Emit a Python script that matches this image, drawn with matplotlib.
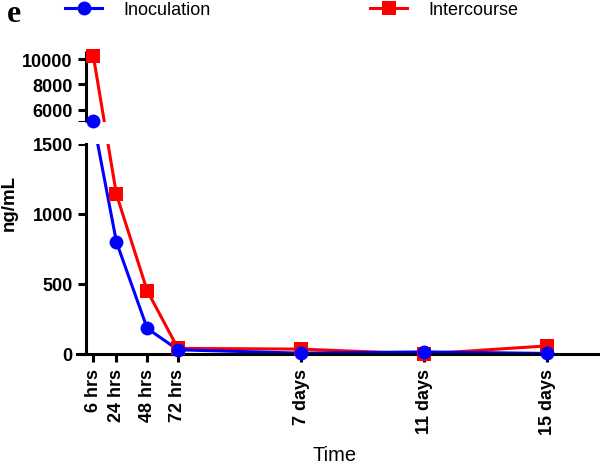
"""
Panel e: ng/mL over time after inoculation vs. intercourse, broken y axis.
"""

import matplotlib
matplotlib.use("Agg")
import matplotlib.pyplot as plt
import numpy as np
from matplotlib.lines import Line2D
from matplotlib.patches import Rectangle

HOURS = [6, 24, 48, 72, 168, 264, 360]
TIME_LABELS = ["6 hrs", "24 hrs", "48 hrs", "72 hrs", "7 days", "11 days", "15 days"]
INOCULATION = [5100, 800, 183, 30, 6, 15, 4]
INTERCOURSE = [10250, 1140, 452, 40, 35, 0, 58]

Y_TICKS = [0, 500, 1000, 1500, 5000, 6000, 8000, 10000]
Y_TICK_LABELS = ["0", "500", "1000", "1500", "", "6000", "8000", "10000"]

LOW_MAX = 1500    # top of lower segment
HIGH_MIN = 5000   # bottom of upper segment
Y_TOP = 10690

# pixels per data unit in each segment, and the blank gap between them
LOW_K = 0.14
GAP = 21.7
HIGH_K = 0.0126

BLUE = "#0000FF"
RED = "#FF0000"
LW = 2.2


def _fwd(y):
    y = np.asarray(y, dtype=float)
    u1 = LOW_MAX * LOW_K
    low = y * LOW_K
    mid = u1 + (y - LOW_MAX) / (HIGH_MIN - LOW_MAX) * GAP
    high = u1 + GAP + (y - HIGH_MIN) * HIGH_K
    return np.where(y <= LOW_MAX, low, np.where(y < HIGH_MIN, mid, high))


def _inv(u):
    u = np.asarray(u, dtype=float)
    u1 = LOW_MAX * LOW_K
    u2 = u1 + GAP
    low = u / LOW_K
    mid = LOW_MAX + (u - u1) / GAP * (HIGH_MIN - LOW_MAX)
    high = HIGH_MIN + (u - u2) / HIGH_K
    return np.where(u <= u1, low, np.where(u < u2, mid, high))


def main() -> None:
    plt.rcParams["font.family"] = ["Liberation Sans", "DejaVu Sans"]

    fig = plt.figure(figsize=(6.0, 4.64), dpi=100)
    ax = fig.add_axes([76.7 / 600, 109 / 464, 522.3 / 600, 303.4 / 464])
    ax.set_yscale("function", functions=(_fwd, _inv))

    # lines first, then the gap mask, then markers on top
    ax.plot(HOURS, INTERCOURSE, color=RED, lw=LW, zorder=2)
    ax.plot(HOURS, INOCULATION, color=BLUE, lw=LW, zorder=2.05)
    ax.add_patch(Rectangle((0, LOW_MAX), 1, HIGH_MIN - LOW_MAX,
                           transform=ax.get_yaxis_transform(),
                           facecolor="white", edgecolor="none", zorder=2.2))
    ax.plot(HOURS, INTERCOURSE, ls="none", marker="s", ms=10, mew=0,
            color=RED, zorder=3, clip_on=False)
    ax.plot(HOURS, INOCULATION, ls="none", marker="o", ms=10, mew=0,
            color=BLUE, zorder=3.1, clip_on=False)

    ax.set_xlim(-7, 400.5)
    ax.set_ylim(0, Y_TOP)

    for side in ("top", "right"):
        ax.spines[side].set_visible(False)
    ax.spines["left"].set_position(("data", 0))
    ax.spines["left"].set_bounds(0, LOW_MAX)
    for side in ("left", "bottom"):
        ax.spines[side].set_linewidth(LW)
    ax.plot([0, 0], [HIGH_MIN, Y_TOP], color="black", lw=LW,
            solid_capstyle="butt", clip_on=False, zorder=2.5)

    ax.set_yticks(Y_TICKS, Y_TICK_LABELS, fontsize=13, fontweight="bold")
    ax.set_xticks(HOURS, TIME_LABELS, rotation=90, fontsize=13, fontweight="bold")
    ax.tick_params(axis="both", direction="out", length=5.8, width=LW)
    ax.tick_params(axis="y", pad=3.5)
    ax.tick_params(axis="x", pad=4)
    ax.minorticks_off()

    fig.text(9 / 600, 1 - 203 / 464, "ng/mL", rotation=90, fontsize=13.5,
             fontweight="bold", ha="center", va="center")
    fig.text(335 / 600, 2.5 / 464, "Time", fontsize=14.5, ha="center", va="baseline")
    fig.text(7 / 600, 1 - 22.3 / 464, "e", family=["Liberation Serif", "DejaVu Serif"],
             fontsize=23, fontweight="bold", ha="left", va="baseline")

    handles = [
        Line2D([], [], color=BLUE, lw=LW, marker="o", ms=10, mew=0),
        Line2D([], [], color=RED, lw=LW, marker="s", ms=10, mew=0),
    ]
    fig.legend(handles, ["Inoculation", "Intercourse"], ncol=2,
               loc="center left", bbox_to_anchor=(65 / 600, 1 - 10.5 / 464),
               frameon=False, borderpad=0, borderaxespad=0,
               handlelength=2.05, handletextpad=1.16, columnspacing=8.86,
               prop=dict(size=13))

    fig.savefig("out.png", dpi=100)
    plt.close(fig)


if __name__ == "__main__":
    main()
